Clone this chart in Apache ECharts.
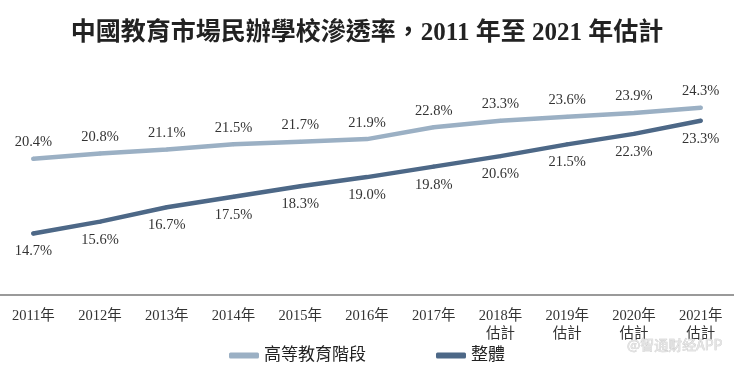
<!DOCTYPE html>
<html><head><meta charset="utf-8">
<script src="https://cdn.jsdelivr.net/npm/echarts@6/dist/echarts.min.js"></script>
<style>html,body{margin:0;padding:0;background:#fff}#c{width:734px;height:365px}</style>
</head><body><div id="c"></div>
<script>
const categories = ['2011年','2012年','2013年','2014年','2015年','2016年','2017年','2018年\n估計','2019年\n估計','2020年\n估計','2021年\n估計'];
const higherEdu = [20.4,20.8,21.1,21.5,21.7,21.9,22.8,23.3,23.6,23.9,24.3];
const overall = [14.7,15.6,16.7,17.5,18.3,19.0,19.8,20.6,21.5,22.3,23.3];
const seriesNames = ['高等教育階段','整體'];

const serif = '"Liberation Serif","Noto Sans CJK TC",serif';
const chart = echarts.init(document.getElementById('c'), null, {renderer:'canvas'});
chart.setOption({
  backgroundColor:'#fff',
  animation:false,
  title:[{
    text:'中國教育市場民辦學校滲透率，2011 年至 2021 年估計',
    left:'center', top:16,
    textStyle:{fontFamily:serif, fontSize:25, fontWeight:'bold', color:'#222'}
  },{
    text:'@智通财经APP', right:6, bottom:8,
    textStyle:{fontFamily:'"Noto Sans CJK SC",sans-serif', fontSize:14, fontWeight:'normal', color:'#e4e4e4', textBorderColor:'#c8c8c8', textBorderWidth:0.6}
  }],
  legend:{
    top:342, left:'center', itemGap:70, itemWidth:30, itemHeight:6,
    icon:'roundRect',
    textStyle:{fontFamily:serif, fontSize:17, color:'#222'},
    data:seriesNames
  },
  grid:{left:0, right:0, top:33, bottom:70, containLabel:false},
  xAxis:{
    type:'category', data:categories, boundaryGap:true,
    axisLine:{lineStyle:{color:'#9a9a9a', width:2}},
    axisTick:{show:false},
    axisLabel:{interval:0, fontFamily:serif, fontSize:14.5, color:'#333', margin:12, lineHeight:18}
  },
  yAxis:{type:'value', min:10, max:30, show:false, splitLine:{show:false}},
  series:[{
    name:seriesNames[0], type:'line', data:higherEdu, symbol:'circle', symbolSize:4, showSymbol:true,
    lineStyle:{width:4.5, color:'#9bb0c4', cap:'round'}, itemStyle:{color:'#9bb0c4'},
    label:{show:true, position:'top', distance:7, formatter:p=>p.value.toFixed(1)+'%', fontFamily:serif, fontSize:14.5, color:'#333'}
  },{
    name:seriesNames[1], type:'line', data:overall, symbol:'circle', symbolSize:4, showSymbol:true,
    lineStyle:{width:4.5, color:'#4d6887', cap:'round'}, itemStyle:{color:'#4d6887'},
    label:{show:true, position:'bottom', distance:9, formatter:p=>p.value.toFixed(1)+'%', fontFamily:serif, fontSize:14.5, color:'#333'}
  }]
});
</script></body></html>
